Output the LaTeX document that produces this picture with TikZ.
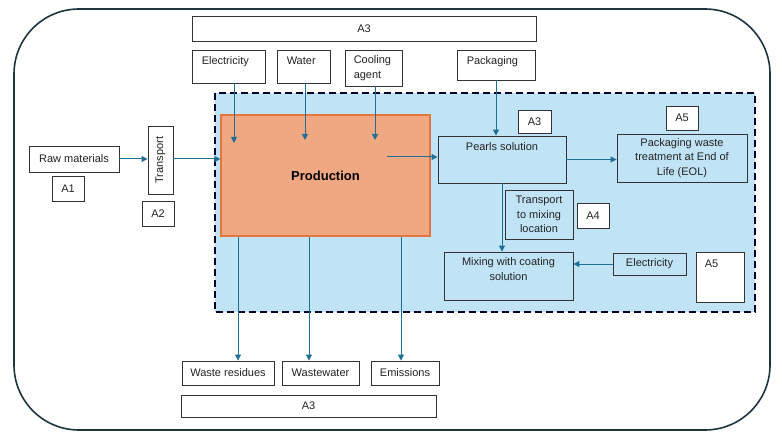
\documentclass[tikz,border=0pt]{standalone}
\usepackage{fontspec}
\setmainfont{Liberation Sans}
\usetikzlibrary{arrows.meta}

\definecolor{flowblue}{RGB}{31,110,150}
\definecolor{zoneblue}{RGB}{192,228,245}
\definecolor{prodfill}{RGB}{240,168,130}
\definecolor{prodline}{RGB}{226,118,60}
\definecolor{frameline}{RGB}{30,52,62}
\definecolor{textgray}{RGB}{35,35,35}

\tikzset{
  box/.style={draw=black!80, line width=0.9pt, fill=white, inner sep=0pt, text=textgray,
    font=\fontsize{11}{14.5}\selectfont, align=center},
  bluebox/.style={box, fill=zoneblue},
  lbl/.style={inner sep=0pt, text=textgray, font=\fontsize{11}{14.5}\selectfont},
  flow/.style={draw=flowblue, line width=1pt, -{Triangle[length=6pt,width=6pt]}},
}

\begin{document}
\begin{tikzpicture}[x=1pt,y=1pt,yscale=-1,xscale=1]
\useasboundingbox (0,0) rectangle (782,433);

%Outer frame
\draw [frameline, line width=1.6pt, rounded corners=65pt] (14,9) rectangle (770,430);

%Dashed zone
\draw [fill=zoneblue, draw=black!85!blue, line width=1.5pt, dash pattern=on 7pt off 4pt] (215,93) rectangle (755,312);

%Shape: Production
\node [draw=prodline, line width=1.2pt, fill=prodfill, minimum width=209pt, minimum height=121pt,
  font=\fontsize{13}{15}\selectfont\bfseries] (prod) at (325.5,175.5) {Production};

%Top inputs
\node [box, minimum width=344pt, minimum height=25pt] (a3top) at (364,28.5) {A3};
\node [box, minimum width=73pt, minimum height=33pt] (elec) at (228.5,66.5) {};
\node [box, minimum width=53pt, minimum height=33pt] (water) at (303.5,66.5) {};
\node [box, minimum width=57pt, minimum height=36pt] (cool) at (373.5,68) {};
\node [box, minimum width=78pt, minimum height=30pt] (pack) at (496,65) {};
% Text Node
\node [lbl, anchor=north west] (elec-t) at ([xshift=10pt,yshift=7pt]elec.north west) {Electricity};
\node [lbl, anchor=north west] (water-t) at ([xshift=10pt,yshift=7pt]water.north west) {Water};
\node [lbl, anchor=north west, align=left] (cool-t) at ([xshift=9pt,yshift=6pt]cool.north west) {Cooling\\agent};
\node [lbl, anchor=north west] (pack-t) at ([xshift=10pt,yshift=7pt]pack.north west) {Packaging};

%Left side
\node [box, minimum width=90pt, minimum height=26pt] (raw) at (74,159) {Raw materials};
\node [box, minimum width=32pt, minimum height=25pt] (a1) at (68,188.5) {A1};
\node [box, minimum width=68pt, minimum height=25pt, rotate=90] (trans) at (160.5,160) {Transport};
\node [box, minimum width=32pt, minimum height=25pt] (a2) at (158,213.5) {A2};

%Right side
\node [bluebox, minimum width=128pt, minimum height=47pt] (pearls) at (502,159.5) {};
\node [lbl, anchor=north] (pearls-t) at ([yshift=7pt]pearls.north) {Pearls solution};
\node [box, minimum width=33pt, minimum height=23pt] (a3mid) at (534.5,121.5) {A3};
\node [bluebox, minimum width=130pt, minimum height=48pt] (pkgw) at (682,158) {Packaging waste\\treatment at End of\\Life (EOL)};
\node [box, minimum width=32pt, minimum height=24pt] (a5top) at (682,118) {A5};
\node [bluebox, minimum width=68pt, minimum height=49pt] (tmix) at (539,214.5) {Transport\\to mixing\\location};
\node [box, minimum width=32pt, minimum height=25pt] (a4) at (593,215.5) {A4};
\node [bluebox, minimum width=129pt, minimum height=48pt] (mix) at (508.5,276) {};
\node [lbl, anchor=north, align=center] (mix-t) at ([yshift=6pt]mix.north) {Mixing with coating\\solution};
\node [bluebox, minimum width=73pt, minimum height=22pt] (elec2) at (649.5,264) {Electricity};
\node [box, minimum width=48pt, minimum height=50pt] (a5big) at (720,277) {};
\node [lbl, anchor=north west] (a5big-t) at ([xshift=9pt,yshift=8pt]a5big.north west) {A5};

%Bottom outputs
\node [box, minimum width=92pt, minimum height=24pt] (wres) at (228,373) {Waste residues};
\node [box, minimum width=77pt, minimum height=24pt] (wwat) at (320.5,373) {Wastewater};
\node [box, minimum width=68pt, minimum height=24pt] (emis) at (405,373) {Emissions};
\node [box, minimum width=255pt, minimum height=22pt] (a3bot) at (308.5,406) {A3};

%Straight Lines
\coordinate (pin1) at (234,143);
\coordinate (pin2) at (305,140);
\coordinate (pin3) at (375,140);
\coordinate (pout) at (387,157);
\draw [flow] (raw.east) -- (raw.east -| trans.north);
\draw [flow] (trans.south |- raw.east) -- (prod.west |- raw.east);
\draw [flow] (elec.south -| pin1) -- (pin1);
\draw [flow] (water.south -| pin2) -- (pin2);
\draw [flow] (cool.south -| pin3) -- (pin3);
\draw [flow] (pout) -- (pout -| pearls.west);
\draw [flow] (pack.south) -- (pack.south |- pearls.north);
\draw [flow] (pearls.east) -- (pearls.east -| pkgw.west);
\draw [flow] (pearls.south) -- (pearls.south |- mix.north);
\draw [flow] (elec2.west) -- (elec2.west -| mix.east);
\draw [flow] (238,0 |- prod.south) -- (238,0 |- wres.north);
\draw [flow] (309,0 |- prod.south) -- (309,0 |- wwat.north);
\draw [flow] (401,0 |- prod.south) -- (401,0 |- emis.north);

\end{tikzpicture}
\end{document}
